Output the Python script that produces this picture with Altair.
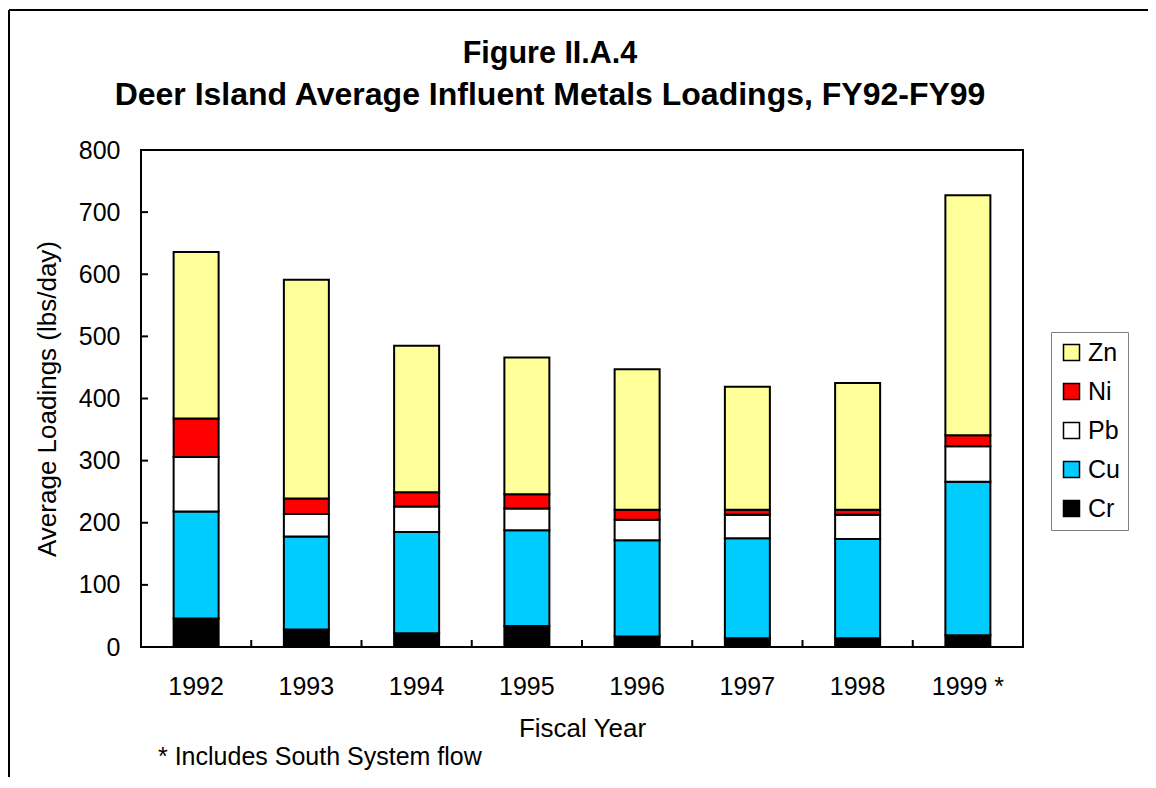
import altair as alt
import pandas as pd

years = ["1992", "1993", "1994", "1995", "1996", "1997", "1998", "1999 *"]
cr = [46, 28, 22, 34, 17, 14, 14, 19]
cu = [172, 150, 163, 154, 155, 161, 160, 247]
pb = [88, 36, 41, 35, 33, 38, 39, 57]
ni = [62, 25, 23, 23, 16, 8, 8, 18]
zn = [268, 352, 236, 220, 226, 198, 204, 386]

metals = ["Zn", "Ni", "Pb", "Cu", "Cr"]
colors = ["#FFFF99", "#FF0000", "#FFFFFF", "#00CCFF", "#000000"]
y_ticks = [0, 100, 200, 300, 400, 500, 600, 700, 800]
title_lines = ["Figure II.A.4", "Deer Island Average Influent Metals Loadings, FY92-FY99"]
footnote = "* Includes South System flow"

series = {"Cr": cr, "Cu": cu, "Pb": pb, "Ni": ni, "Zn": zn}
stack_idx = {"Cr": 0, "Cu": 1, "Pb": 2, "Ni": 3, "Zn": 4}
rows = []
for m, vals in series.items():
    for y, v in zip(years, vals):
        rows.append({"year": y, "metal": m, "value": v, "order": stack_idx[m]})
df = pd.DataFrame(rows)

FONT = "Liberation Sans"
W, H = 882, 497

xenc = alt.X("year:N", sort=years, title="Fiscal Year",
             scale=alt.Scale(paddingInner=0, paddingOuter=0),
             axis=alt.Axis(labelAngle=0, ticks=False, domain=False, labelFontSize=25,
                           labelPadding=27, titleFontSize=26, titlePadding=16,
                           titleFontWeight="normal", labelColor="black", titleColor="black"))

bars = alt.Chart(df).mark_bar(size=45, stroke="black", strokeWidth=2).encode(
    x=xenc,
    y=alt.Y("value:Q", stack="zero", title="Average Loadings (lbs/day)",
            scale=alt.Scale(domain=[0, 800], nice=False),
            axis=alt.Axis(values=y_ticks, ticks=False, domain=False, grid=False,
                          labelFontSize=25, labelPadding=21, titleFontSize=26,
                          titlePadding=18, titleFontWeight="normal",
                          labelColor="black", titleColor="black")),
    color=alt.Color("metal:N", scale=alt.Scale(domain=metals, range=colors),
                    legend=alt.Legend(title=None, orient="none", legendX=910, legendY=182,
                                      symbolType="square", symbolSize=256,
                                      symbolStrokeColor="black", symbolStrokeWidth=1.5,
                                      symbolOpacity=1, labelFontSize=25, labelColor="black",
                                      rowPadding=13, padding=8, strokeColor="#808080",
                                      labelOffset=4)),
    order=alt.Order("order:Q", sort="ascending"),
)

ytick_df = pd.DataFrame({"v": y_ticks})
yticks = alt.Chart(ytick_df).mark_rule(color="black", strokeWidth=2).encode(
    y=alt.Y("v:Q"), x=alt.value(0), x2=alt.value(7)
)

xtick_df = pd.DataFrame({"year": years})
xticks = alt.Chart(xtick_df).mark_rule(color="black", strokeWidth=2).encode(
    x=alt.X("year:N", sort=years, bandPosition=0),
    y=alt.value(H), y2=alt.value(H - 7)
)

foot = alt.Chart(pd.DataFrame({"t": [footnote]})).mark_text(
    align="left", baseline="middle", fontSize=25, font=FONT, color="black"
).encode(text="t:N", x=alt.value(17), y=alt.value(607))

title1 = alt.Chart(pd.DataFrame({"t": [title_lines[0]]})).mark_text(
    align="center", baseline="alphabetic", fontSize=30.5, fontWeight="bold", font=FONT, color="black"
).encode(text="t:N", x=alt.value(409), y=alt.value(-87))
title2 = alt.Chart(pd.DataFrame({"t": [title_lines[1]]})).mark_text(
    align="center", baseline="alphabetic", fontSize=32, fontWeight="bold", font=FONT, color="black"
).encode(text="t:N", x=alt.value(409), y=alt.value(-45))

frame_left = alt.Chart(pd.DataFrame({"a": [0]})).mark_rule(color="black", strokeWidth=2).encode(
    x=alt.value(-132), y=alt.value(-140), y2=alt.value(H + 140)
)
frame_top = alt.Chart(pd.DataFrame({"a": [0]})).mark_rule(color="black", strokeWidth=2).encode(
    x=alt.value(-132), x2=alt.value(W + 130), y=alt.value(-140)
)

chart = alt.layer(frame_left, frame_top, bars, yticks, xticks, foot, title1, title2).properties(
    width=W, height=H,
    padding={"left": 133, "top": 142, "right": 125, "bottom": 130},
    autosize=alt.AutoSizeParams(type="none"),
).configure(font=FONT).configure_view(stroke="black", strokeWidth=2).configure_axis(
    labelFont=FONT, titleFont=FONT
).configure_legend(labelFont=FONT)

chart.save("out.html", embed_options={"renderer": "svg", "actions": False})
